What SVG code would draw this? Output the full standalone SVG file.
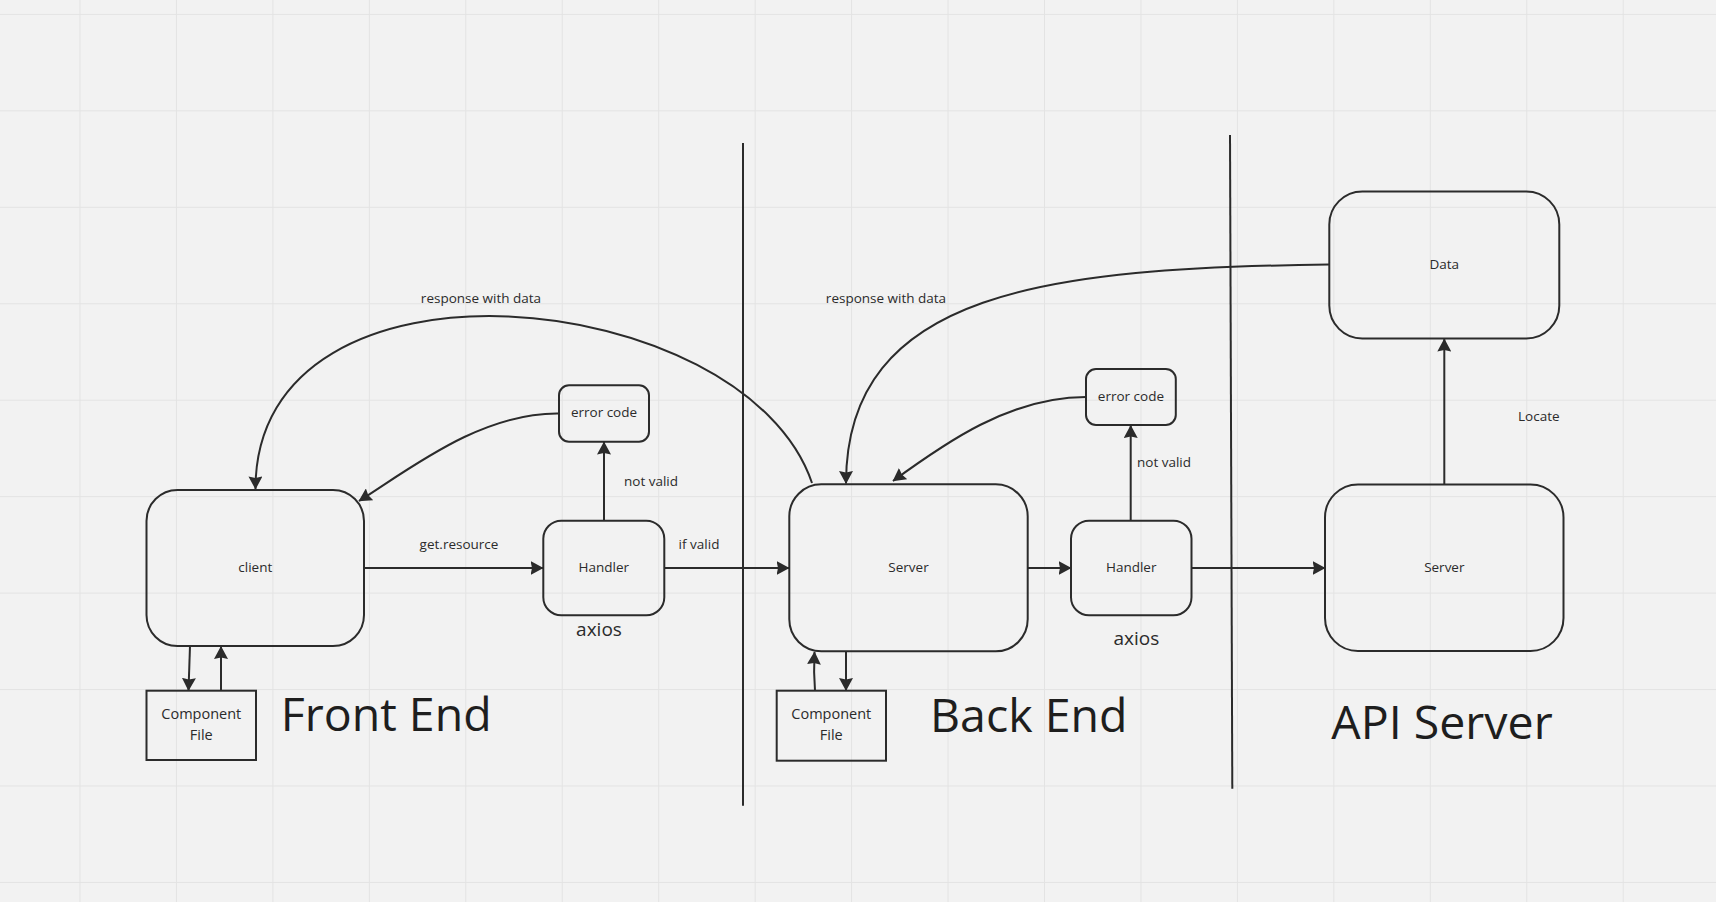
<svg xmlns="http://www.w3.org/2000/svg" width="1716" height="902" viewBox="0 0 1716 902">
<style>
.box{fill:none;stroke:#2b2b2b;stroke-width:2}
.lbl{font-family:"Open Sans","Noto Sans","Liberation Sans",sans-serif;font-size:13.5px;fill:#2b2b2b}
.mid{text-anchor:middle}
.big{font-family:"Open Sans","Noto Sans","Liberation Sans",sans-serif;font-size:46.5px;fill:#1e1e1e}
.ax{font-family:"Open Sans","Noto Sans","Liberation Sans",sans-serif;font-size:19px;fill:#2b2b2b;text-anchor:middle}
.con{fill:none;stroke:#2b2b2b;stroke-width:2}
.sep{fill:none;stroke:#2b2b2b;stroke-width:2}
</style>
<defs>
<pattern id="grid" patternUnits="userSpaceOnUse" x="79.5" y="13.9" width="96.45" height="96.45">
<path d="M0.5,0 V96.45 M0,0.5 H96.45" fill="none" stroke="#e3e3e3" stroke-width="1"/>
</pattern>
<marker id="arr" markerUnits="userSpaceOnUse" markerWidth="13" markerHeight="14" viewBox="0 0 13 14" refX="12.5" refY="7" orient="auto">
<path d="M0,0 L13,7 L0,14 L1.5,7 z" fill="#2b2b2b"/>
</marker>
</defs>
<rect x="0" y="0" width="1716" height="902" fill="#f2f2f2"/>
<rect x="0" y="0" width="1716" height="902" fill="url(#grid)"/>

<g id="separators">
<path class="sep" d="M743,143 V805.7"/>
<path class="sep" d="M1230,135 L1232.3,788.7"/>
</g>

<g id="connectors">
<path class="con" d="M364,568 H543" marker-end="url(#arr)"/>
<path class="con" d="M604,520.7 V442" marker-end="url(#arr)"/>
<path class="con" d="M558,413.5 C480,413 410,469 359,501" marker-end="url(#arr)"/>
<path class="con" d="M664.2,568 H789" marker-end="url(#arr)"/>
<path class="con" d="M812,483 C745,285 255,235 255.5,489" marker-end="url(#arr)"/>
<path class="con" d="M190,646 L188.5,690.5" marker-end="url(#arr)"/>
<path class="con" d="M221,690.7 V646.5" marker-end="url(#arr)"/>
<path class="con" d="M1027.7,568 H1071" marker-end="url(#arr)"/>
<path class="con" d="M1130.7,520.7 V425.5" marker-end="url(#arr)"/>
<path class="con" d="M1086,397 C1010,397 945,443 893,481" marker-end="url(#arr)"/>
<path class="con" d="M1191.5,568 H1325" marker-end="url(#arr)"/>
<path class="con" d="M1444.3,484.5 V339" marker-end="url(#arr)"/>
<path class="con" d="M1329,264.5 C1050,268 846,290 846,483.5" marker-end="url(#arr)"/>
<path class="con" d="M846,651.5 V690.5" marker-end="url(#arr)"/>
<path class="con" d="M815,690.7 Q813.5,672 814.5,652" marker-end="url(#arr)"/>
<text class="lbl mid" x="459" y="549">get.resource</text>
<text class="lbl mid" x="699" y="548.7">if valid</text>
<text class="lbl" x="624" y="486.4">not valid</text>
<text class="lbl" x="1137" y="467.4">not valid</text>
<text class="lbl mid" x="481" y="303">response with data</text>
<text class="lbl mid" x="886" y="303">response with data</text>
<text class="lbl" x="1518" y="420.7">Locate</text>
</g>

<g id="client">
<rect class="box" x="146.5" y="490" width="217.5" height="156" rx="31"/>
<text class="lbl mid" x="255.3" y="572">client</text>
</g>
<g id="component-file-front">
<rect class="box" x="146.5" y="690.7" width="109.5" height="69.3"/>
<text class="lbl mid" x="201.3" y="719" style="font-size:14.5px">Component</text>
<text class="lbl mid" x="201.3" y="740" style="font-size:14.5px">File</text>
</g>
<g id="handler-front">
<rect class="box" x="543.3" y="520.7" width="121" height="94.6" rx="18"/>
<text class="lbl mid" x="603.8" y="572.3">Handler</text>
</g>
<g id="error-code-front">
<rect class="box" x="559" y="385.3" width="90" height="56.4" rx="10"/>
<text class="lbl mid" x="604" y="417.3">error code</text>
</g>
<text class="ax" x="599" y="635.7">axios</text>
<text class="big" x="280.7" y="731">Front End</text>

<g id="server-back">
<rect class="box" x="789.3" y="484.3" width="238.4" height="167" rx="32"/>
<text class="lbl mid" x="908.5" y="572.3">Server</text>
</g>
<g id="component-file-back">
<rect class="box" x="776.7" y="690.7" width="109.3" height="70"/>
<text class="lbl mid" x="831.3" y="719" style="font-size:14.5px">Component</text>
<text class="lbl mid" x="831.3" y="740" style="font-size:14.5px">File</text>
</g>
<g id="handler-back">
<rect class="box" x="1071" y="520.7" width="120.5" height="94.6" rx="18"/>
<text class="lbl mid" x="1131.2" y="572.3">Handler</text>
</g>
<g id="error-code-back">
<rect class="box" x="1086" y="369" width="89.8" height="56" rx="10"/>
<text class="lbl mid" x="1130.9" y="401.3">error code</text>
</g>
<text class="ax" x="1136.4" y="645">axios</text>
<text class="big" x="930" y="732">Back End</text>

<g id="data">
<rect class="box" x="1329.3" y="191.5" width="230" height="147" rx="33"/>
<text class="lbl mid" x="1444.3" y="269">Data</text>
</g>
<g id="server-api">
<rect class="box" x="1325" y="484.5" width="238.5" height="166.5" rx="33"/>
<text class="lbl mid" x="1444.3" y="572.3">Server</text>
</g>
<text class="big mid" x="1442" y="739">API Server</text>
</svg>
